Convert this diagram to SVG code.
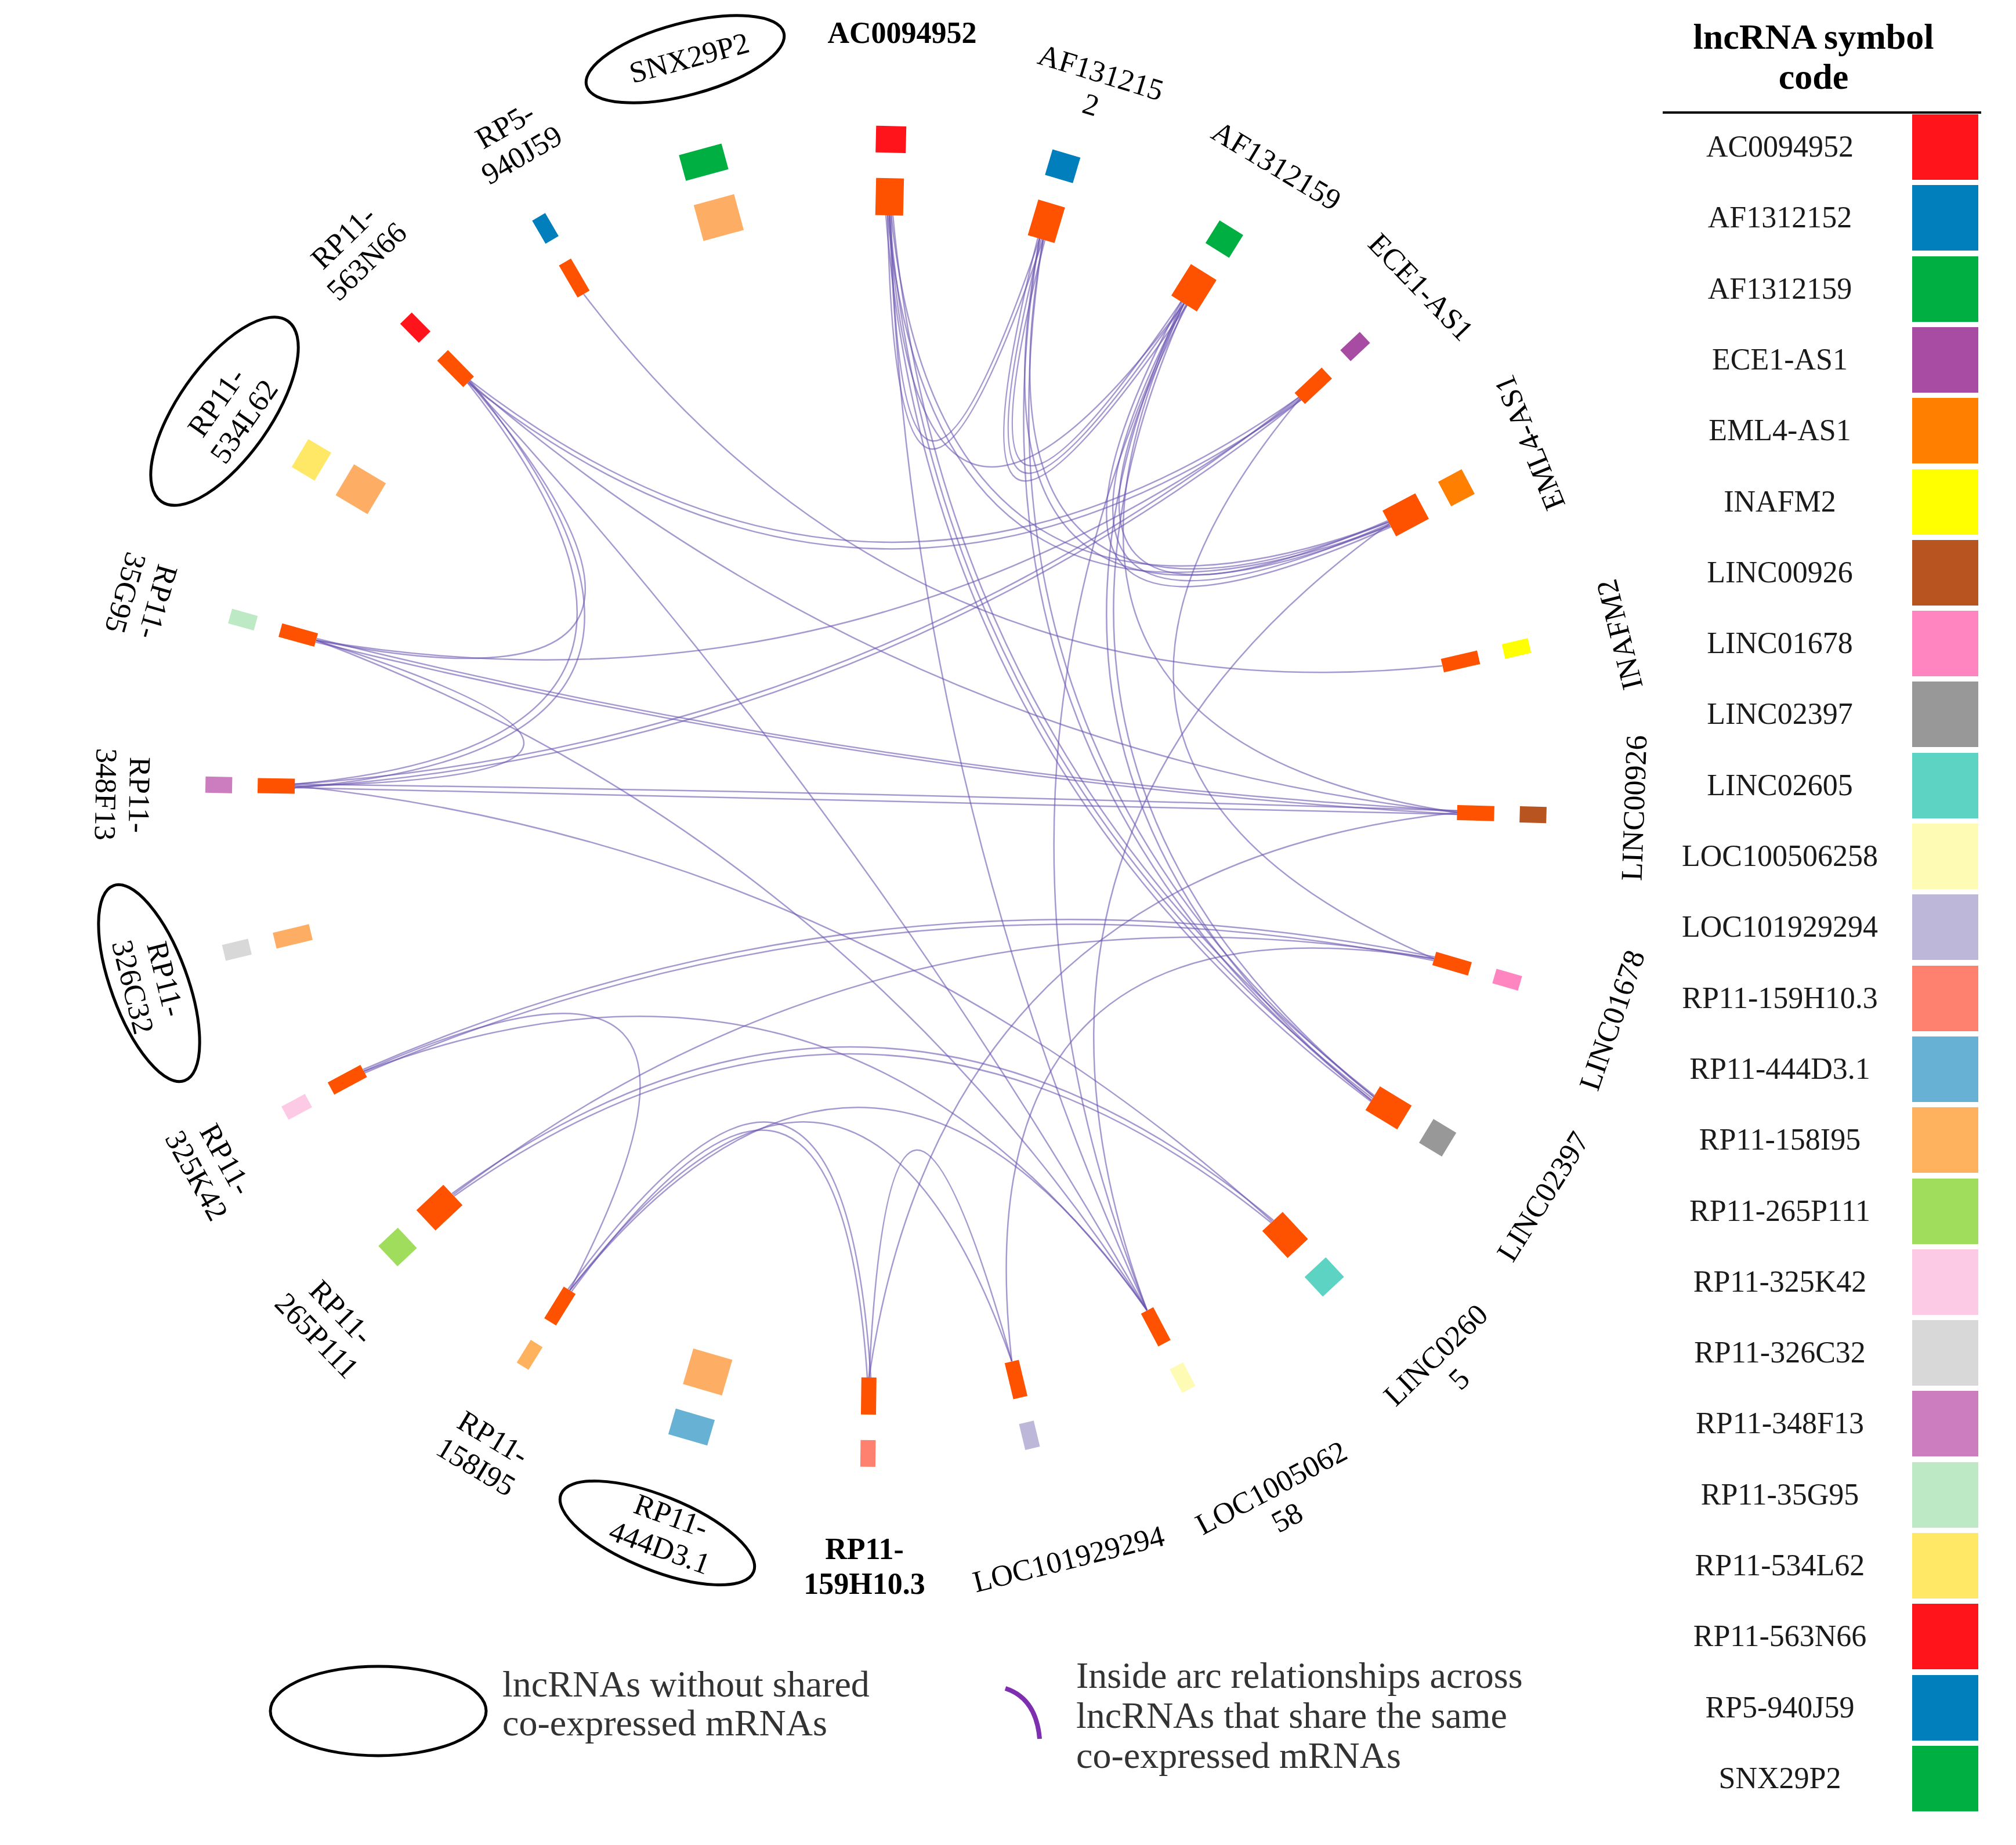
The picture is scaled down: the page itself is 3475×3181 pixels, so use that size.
<svg xmlns="http://www.w3.org/2000/svg" width="3475" height="3181" viewBox="0 0 3475 3181">
<style>
.lbl{font-family:"Liberation Serif","Times New Roman",serif;font-size:52px;fill:#000;text-anchor:middle}
.b{font-weight:bold}
.lk{fill:none;stroke:#6a55b0;stroke-opacity:0.6;stroke-width:2.5}
.in{fill:#ff5200}
.ns{fill:#fdae64}
.el{fill:none;stroke:#000;stroke-width:5}
.leg{font-family:"Liberation Serif","Times New Roman",serif;font-size:64px;fill:#333}
.tbl{font-family:"Liberation Serif","Times New Roman",serif;font-size:52px;fill:#1a1a1a;text-anchor:middle}
.ttl{font-family:"Liberation Serif","Times New Roman",serif;font-size:62px;font-weight:bold;fill:#000;text-anchor:middle}
</style>
<rect x="0" y="0" width="3475" height="3181" fill="#fff"/>
<g id="links" class="lk" transform="translate(1510,1373)">
<path d="M20,-1002 Q34,-217 288,-960"/>
<path d="M26,-1002 Q38,-244 282,-962"/>
<path d="M279,-963 Q84,-187 536,-847"/>
<path d="M285,-961 Q96,-213 531,-850"/>
<path d="M291,-959 Q107,-238 526,-853"/>
<path d="M23,-1002 Q65,-218 531,-850"/>
<path d="M20,-1002 Q100,-163 886,-467"/>
<path d="M26,-1002 Q113,-183 884,-473"/>
<path d="M282,-962 Q129,-158 886,-467"/>
<path d="M288,-960 Q146,-178 884,-473"/>
<path d="M526,-853 Q146,-136 888,-465"/>
<path d="M531,-850 Q166,-155 885,-470"/>
<path d="M536,-847 Q186,-174 882,-475"/>
<path d="M17,-1002 Q91,-50 853,526"/>
<path d="M23,-1002 Q103,-57 856,521"/>
<path d="M29,-1002 Q116,-63 859,516"/>
<path d="M282,-962 Q126,-49 854,524"/>
<path d="M288,-960 Q142,-55 858,518"/>
<path d="M528,-852 Q153,-36 854,524"/>
<path d="M534,-848 Q173,-41 858,518"/>
<path d="M23,-1002 Q58,-14 467,886"/>
<path d="M531,-850 Q117,4 467,886"/>
<path d="M885,-470 Q159,49 467,886"/>
<path d="M-704,-713 Q3,-155 733,-684"/>
<path d="M-700,-717 Q3,-174 729,-688"/>
<path d="M-1002,-15 Q-30,-78 733,-684"/>
<path d="M-1002,-21 Q-34,-88 729,-688"/>
<path d="M-965,-269 Q-28,-112 731,-686"/>
<path d="M731,-686 Q199,-48 962,280"/>
<path d="M-504,-866 Q56,-128 976,-225"/>
<path d="M-965,-269 Q-196,-116 -702,-715"/>
<path d="M-1002,-15 Q-188,-81 -700,-717"/>
<path d="M-1002,-21 Q-212,-91 -704,-713"/>
<path d="M-1002,-18 Q-231,-34 -965,-269"/>
<path d="M467,886 Q-28,20 -702,-715"/>
<path d="M-702,-715 Q35,-81 1002,28"/>
<path d="M-966,-266 Q4,-27 1002,31"/>
<path d="M-964,-272 Q5,-30 1002,25"/>
<path d="M1002,25 Q0,-8 -1002,-21"/>
<path d="M1002,31 Q0,10 -1002,-15"/>
<path d="M683,733 Q-37,84 -1002,-18"/>
<path d="M467,886 Q-59,73 -965,-269"/>
<path d="M963,277 Q9,83 -884,471"/>
<path d="M961,283 Q10,94 -882,477"/>
<path d="M467,886 Q-49,160 -883,474"/>
<path d="M-528,852 Q-166,156 -883,474"/>
<path d="M685,731 Q-5,157 -731,685"/>
<path d="M681,735 Q-6,177 -727,689"/>
<path d="M962,280 Q27,114 -729,687"/>
<path d="M-9,1002 Q-60,205 -531,850"/>
<path d="M-15,1002 Q-67,231 -525,854"/>
<path d="M234,974 Q26,232 -12,1002"/>
<path d="M1002,28 Q116,121 -12,1002"/>
<path d="M962,280 Q141,147 234,974"/>
<path d="M467,886 Q-7,204 -528,852"/>
<path d="M234,974 Q-35,215 -528,852"/>
<path d="M531,-850 Q180,-97 1002,28"/>
</g>
<g id="n-AC0094952">
<g transform="translate(1510,1373) rotate(1.3)"><rect x="-26" y="-1156" width="52" height="46" fill="#ff141c"/><rect class="in" x="-24" y="-1066" width="48" height="64"/></g>
<text class="lbl b" transform="translate(1555,57)" y="17">AC0094952</text>
</g>
<g id="n-AF1312152">
<g transform="translate(1510,1373) rotate(16.5)"><rect x="-25" y="-1156" width="50" height="46" fill="#017fbc"/><rect class="in" x="-24" y="-1066" width="48" height="64"/></g>
<text class="lbl" transform="translate(1889,153) rotate(17)"><tspan x="0" y="-12">AF131215</tspan><tspan x="0" y="46">2</tspan></text>
</g>
<g id="n-AF1312159">
<g transform="translate(1510,1373) rotate(32)"><rect x="-24" y="-1156" width="48" height="46" fill="#00af41"/><rect class="in" x="-26" y="-1066" width="52" height="64"/></g>
<text class="lbl" transform="translate(2200,286) rotate(31)" y="17">AF1312159</text>
</g>
<g id="n-ECE1-AS1">
<g transform="translate(1510,1373) rotate(46.8)"><rect x="-13" y="-1156" width="26" height="46" fill="#a84ba3"/><rect class="in" x="-13" y="-1066" width="26" height="64"/></g>
<text class="lbl" transform="translate(2449,495) rotate(46)" y="17">ECE1-AS1</text>
</g>
<g id="n-EML4-AS1">
<g transform="translate(1510,1373) rotate(62)"><rect x="-24" y="-1156" width="48" height="46" fill="#ff8000"/><rect class="in" x="-25" y="-1066" width="50" height="64"/></g>
<text class="lbl" transform="translate(2637,763) rotate(-112)" y="17">EML4-AS1</text>
</g>
<g id="n-INAFM2">
<g transform="translate(1510,1373) rotate(77)"><rect x="-13" y="-1156" width="26" height="46" fill="#ffff00"/><rect class="in" x="-12" y="-1066" width="24" height="64"/></g>
<text class="lbl" transform="translate(2792,1094) rotate(-104)" y="17">INAFM2</text>
</g>
<g id="n-LINC00926">
<g transform="translate(1510,1373) rotate(91.6)"><rect x="-14" y="-1156" width="28" height="46" fill="#b8541f"/><rect class="in" x="-13" y="-1066" width="26" height="64"/></g>
<text class="lbl" transform="translate(2817,1393) rotate(-88)" y="17">LINC00926</text>
</g>
<g id="n-LINC01678">
<g transform="translate(1510,1373) rotate(106.2)"><rect x="-13" y="-1156" width="26" height="46" fill="#ff85c0"/><rect class="in" x="-12" y="-1066" width="24" height="64"/></g>
<text class="lbl" transform="translate(2779,1759) rotate(-71)" y="17">LINC01678</text>
</g>
<g id="n-LINC02397">
<g transform="translate(1510,1373) rotate(121.3)"><rect x="-24" y="-1156" width="48" height="46" fill="#989898"/><rect class="in" x="-24" y="-1066" width="48" height="64"/></g>
<text class="lbl" transform="translate(2660,2063) rotate(-58)" y="17">LINC02397</text>
</g>
<g id="n-LINC02605">
<g transform="translate(1510,1373) rotate(137)"><rect x="-25" y="-1156" width="50" height="46" fill="#5dd3c4"/><rect class="in" x="-24" y="-1066" width="48" height="64"/></g>
<text class="lbl" transform="translate(2495,2357) rotate(-44)"><tspan x="0" y="-12">LINC0260</tspan><tspan x="0" y="46">5</tspan></text>
</g>
<g id="n-LOC100506258">
<g transform="translate(1510,1373) rotate(152.2)"><rect x="-13" y="-1156" width="26" height="46" fill="#fefbb5"/><rect class="in" x="-12" y="-1066" width="24" height="64"/></g>
<text class="lbl" transform="translate(2205,2591) rotate(-28)"><tspan x="0" y="-12">LOC1005062</tspan><tspan x="0" y="46">58</tspan></text>
</g>
<g id="n-LOC101929294">
<g transform="translate(1510,1373) rotate(166.5)"><rect x="-13" y="-1156" width="26" height="46" fill="#bdb8d9"/><rect class="in" x="-12.5" y="-1066" width="25" height="64"/></g>
<text class="lbl" transform="translate(1842,2688) rotate(-14)" y="17">LOC101929294</text>
</g>
<g id="n-RP11-159H10.3">
<g transform="translate(1510,1373) rotate(180.7)"><rect x="-13" y="-1156" width="26" height="46" fill="#fe806f"/><rect class="in" x="-13" y="-1066" width="26" height="64"/></g>
<text class="lbl b" transform="translate(1490,2700)"><tspan x="0" y="-12">RP11-</tspan><tspan x="0" y="48">159H10.3</tspan></text>
</g>
<g id="n-RP11-444D3.1">
<g transform="translate(1510,1373) rotate(196.3)"><rect x="-35" y="-1156" width="70" height="46" fill="#67b1d5"/><rect class="ns" x="-35" y="-1066" width="70" height="64"/></g>
<ellipse class="el" cx="1133" cy="2643" rx="179" ry="64" transform="rotate(22 1133 2643)"/>
<text class="lbl" transform="translate(1147,2641) rotate(20)"><tspan x="0" y="-12">RP11-</tspan><tspan x="0" y="46">444D3.1</tspan></text>
</g>
<g id="n-RP11-158I95">
<g transform="translate(1510,1373) rotate(211.8)"><rect x="-12" y="-1156" width="24" height="46" fill="#feb25d"/><rect class="in" x="-12" y="-1066" width="24" height="64"/></g>
<text class="lbl" transform="translate(835,2504) rotate(31)"><tspan x="0" y="-12">RP11-</tspan><tspan x="0" y="46">158I95</tspan></text>
</g>
<g id="n-RP11-265P111">
<g transform="translate(1510,1373) rotate(226.7)"><rect x="-24" y="-1156" width="48" height="46" fill="#a0dd5c"/><rect class="in" x="-24" y="-1066" width="48" height="64"/></g>
<text class="lbl" transform="translate(567,2283) rotate(46)"><tspan x="0" y="-12">RP11-</tspan><tspan x="0" y="46">265P111</tspan></text>
</g>
<g id="n-RP11-325K42">
<g transform="translate(1510,1373) rotate(241.8)"><rect x="-13" y="-1156" width="26" height="46" fill="#fdcae6"/><rect class="in" x="-12" y="-1066" width="24" height="64"/></g>
<text class="lbl" transform="translate(364,2013) rotate(61)"><tspan x="0" y="-12">RP11-</tspan><tspan x="0" y="46">325K42</tspan></text>
</g>
<g id="n-RP11-326C32">
<g transform="translate(1510,1373) rotate(256.5)"><rect x="-14" y="-1156" width="28" height="46" fill="#d8d8d8"/><rect class="ns" x="-14" y="-1066" width="28" height="64"/></g>
<ellipse class="el" cx="257" cy="1695" rx="179" ry="66" transform="rotate(70 257 1695)"/>
<text class="lbl" transform="translate(257,1695) rotate(76)"><tspan x="0" y="-12">RP11-</tspan><tspan x="0" y="46">326C32</tspan></text>
</g>
<g id="n-RP11-348F13">
<g transform="translate(1510,1373) rotate(271)"><rect x="-14" y="-1156" width="28" height="46" fill="#cb7dbf"/><rect class="in" x="-13" y="-1066" width="26" height="64"/></g>
<text class="lbl" transform="translate(211,1370) rotate(91)"><tspan x="0" y="-12">RP11-</tspan><tspan x="0" y="46">348F13</tspan></text>
</g>
<g id="n-RP11-35G95">
<g transform="translate(1510,1373) rotate(285.6)"><rect x="-13" y="-1156" width="26" height="46" fill="#bdeac4"/><rect class="in" x="-12" y="-1066" width="24" height="64"/></g>
<text class="lbl" transform="translate(244,1030) rotate(106)"><tspan x="0" y="-12">RP11-</tspan><tspan x="0" y="46">35G95</tspan></text>
</g>
<g id="n-RP11-534L62">
<g transform="translate(1510,1373) rotate(300.8)"><rect x="-28" y="-1156" width="56" height="46" fill="#ffe866"/><rect class="ns" x="-31" y="-1066" width="62" height="64"/></g>
<ellipse class="el" cx="387" cy="709" rx="190" ry="80" transform="rotate(-55 387 709)"/>
<text class="lbl" transform="translate(397,710) rotate(-55)"><tspan x="0" y="-12">RP11-</tspan><tspan x="0" y="46">534L62</tspan></text>
</g>
<g id="n-RP11-563N66">
<g transform="translate(1510,1373) rotate(315.5)"><rect x="-14" y="-1156" width="28" height="46" fill="#ff141c"/><rect class="in" x="-13" y="-1066" width="26" height="64"/></g>
<text class="lbl" transform="translate(612,430) rotate(-44)"><tspan x="0" y="-12">RP11-</tspan><tspan x="0" y="46">563N66</tspan></text>
</g>
<g id="n-RP5-940J59">
<g transform="translate(1510,1373) rotate(329.8)"><rect x="-13" y="-1156" width="26" height="46" fill="#017fbc"/><rect class="in" x="-12" y="-1066" width="24" height="64"/></g>
<text class="lbl" transform="translate(885,242) rotate(-30)"><tspan x="0" y="-12">RP5-</tspan><tspan x="0" y="46">940J59</tspan></text>
</g>
<g id="n-SNX29P2">
<g transform="translate(1510,1373) rotate(344.8)"><rect x="-38" y="-1156" width="76" height="46" fill="#00af41"/><rect class="ns" x="-36" y="-1066" width="72" height="64"/></g>
<ellipse class="el" cx="1181" cy="102" rx="176" ry="62" transform="rotate(-15 1181 102)"/>
<text class="lbl" transform="translate(1188,100) rotate(-15)" y="17">SNX29P2</text>
</g>
<g id="legend-bottom">
<ellipse class="el" cx="652" cy="2950" rx="186" ry="77"/>
<text class="leg" x="866" y="2925">lncRNAs without shared</text>
<text class="leg" x="866" y="2992">co-expressed mRNAs</text>
<path d="M1733,2911 Q1786,2928 1792,2998" fill="none" stroke="#7e2fb0" stroke-width="8"/>
<text class="leg" x="1855" y="2910">Inside arc relationships across</text>
<text class="leg" x="1855" y="2979">lncRNAs that share the same</text>
<text class="leg" x="1855" y="3048">co-expressed mRNAs</text>
</g>
<g id="legend-table">
<text class="ttl" x="3126" y="84">lncRNA symbol</text>
<text class="ttl" x="3126" y="153">code</text>
<line x1="2866" y1="194" x2="3415" y2="194" stroke="#000" stroke-width="4"/>
<rect x="3296" y="197" width="114" height="113" fill="#ff141c"/><text class="tbl" x="3068" y="270">AC0094952</text>
<rect x="3296" y="319" width="114" height="113" fill="#017fbc"/><text class="tbl" x="3068" y="392">AF1312152</text>
<rect x="3296" y="442" width="114" height="113" fill="#00af41"/><text class="tbl" x="3068" y="515">AF1312159</text>
<rect x="3296" y="564" width="114" height="113" fill="#a84ba3"/><text class="tbl" x="3068" y="637">ECE1-AS1</text>
<rect x="3296" y="686" width="114" height="113" fill="#ff8000"/><text class="tbl" x="3068" y="759">EML4-AS1</text>
<rect x="3296" y="809" width="114" height="113" fill="#ffff00"/><text class="tbl" x="3068" y="882">INAFM2</text>
<rect x="3296" y="931" width="114" height="113" fill="#b8541f"/><text class="tbl" x="3068" y="1004">LINC00926</text>
<rect x="3296" y="1053" width="114" height="113" fill="#ff85c0"/><text class="tbl" x="3068" y="1126">LINC01678</text>
<rect x="3296" y="1175" width="114" height="113" fill="#989898"/><text class="tbl" x="3068" y="1248">LINC02397</text>
<rect x="3296" y="1298" width="114" height="113" fill="#5dd3c4"/><text class="tbl" x="3068" y="1371">LINC02605</text>
<rect x="3296" y="1420" width="114" height="113" fill="#fefbb5"/><text class="tbl" x="3068" y="1493">LOC100506258</text>
<rect x="3296" y="1542" width="114" height="113" fill="#bdb8d9"/><text class="tbl" x="3068" y="1615">LOC101929294</text>
<rect x="3296" y="1665" width="114" height="113" fill="#fe806f"/><text class="tbl" x="3068" y="1738">RP11-159H10.3</text>
<rect x="3296" y="1787" width="114" height="113" fill="#67b1d5"/><text class="tbl" x="3068" y="1860">RP11-444D3.1</text>
<rect x="3296" y="1909" width="114" height="113" fill="#feb25d"/><text class="tbl" x="3068" y="1982">RP11-158I95</text>
<rect x="3296" y="2032" width="114" height="113" fill="#a0dd5c"/><text class="tbl" x="3068" y="2105">RP11-265P111</text>
<rect x="3296" y="2154" width="114" height="113" fill="#fdcae6"/><text class="tbl" x="3068" y="2227">RP11-325K42</text>
<rect x="3296" y="2276" width="114" height="113" fill="#d8d8d8"/><text class="tbl" x="3068" y="2349">RP11-326C32</text>
<rect x="3296" y="2398" width="114" height="113" fill="#cb7dbf"/><text class="tbl" x="3068" y="2471">RP11-348F13</text>
<rect x="3296" y="2521" width="114" height="113" fill="#bdeac4"/><text class="tbl" x="3068" y="2594">RP11-35G95</text>
<rect x="3296" y="2643" width="114" height="113" fill="#ffe866"/><text class="tbl" x="3068" y="2716">RP11-534L62</text>
<rect x="3296" y="2765" width="114" height="113" fill="#ff141c"/><text class="tbl" x="3068" y="2838">RP11-563N66</text>
<rect x="3296" y="2888" width="114" height="113" fill="#017fbc"/><text class="tbl" x="3068" y="2961">RP5-940J59</text>
<rect x="3296" y="3010" width="114" height="113" fill="#00af41"/><text class="tbl" x="3068" y="3083">SNX29P2</text>
</g>
</svg>
